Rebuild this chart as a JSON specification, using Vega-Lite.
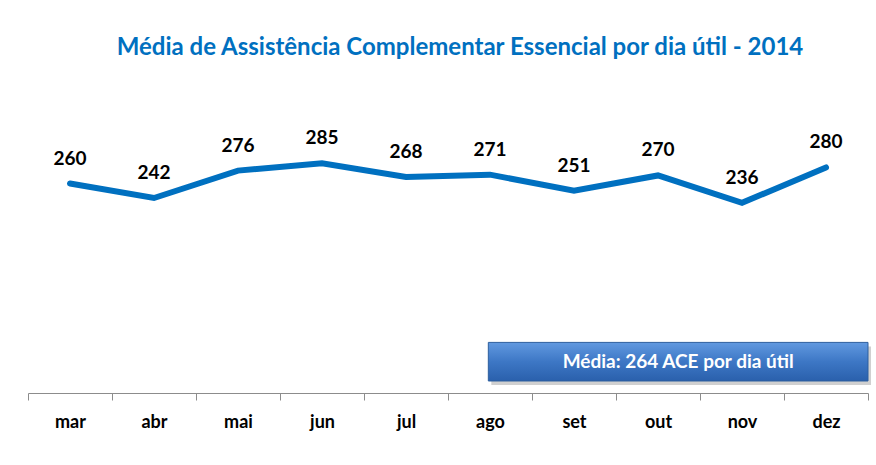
{
  "$schema": "https://vega.github.io/schema/vega-lite/v6.json",
  "width": 840,
  "height": 282,
  "autosize": "none",
  "padding": {"left": 28, "top": 111, "right": 8, "bottom": 72},
  "background": "white",
  "title": {
    "text": "Média de Assistência Complementar Essencial por dia útil - 2014",
    "font": "Lato",
    "fontSize": 24,
    "fontWeight": "bold",
    "color": "#0070C0",
    "anchor": "middle",
    "frame": "group",
    "offset": 51,
    "dx": 12
  },
  "config": {"view": {"stroke": null}},
  "datasets": {
    "meses": [
      {"mes": "mar", "valor": 260},
      {"mes": "abr", "valor": 242},
      {"mes": "mai", "valor": 276},
      {"mes": "jun", "valor": 285},
      {"mes": "jul", "valor": 268},
      {"mes": "ago", "valor": 271},
      {"mes": "set", "valor": 251},
      {"mes": "out", "valor": 270},
      {"mes": "nov", "valor": 236},
      {"mes": "dez", "valor": 280}
    ],
    "media": [{"rotulo": "Média: 264 ACE por dia útil"}]
  },
  "layer": [
    {
      "data": {"name": "meses"},
      "mark": {"type": "line", "color": "#0070C0", "strokeWidth": 6, "strokeCap": "round"},
      "encoding": {
        "x": {
          "field": "mes",
          "type": "nominal",
          "sort": null,
          "scale": {"type": "band", "paddingInner": 0, "paddingOuter": 0},
          "axis": {
            "title": null,
            "labelAngle": 0,
            "labelFont": "Lato",
            "labelFontSize": 18,
            "labelFontWeight": "bold",
            "labelColor": "black",
            "labelPadding": 13,
            "tickBand": "extent",
            "tickSize": 7,
            "tickColor": "#8c8c8c",
            "domainColor": "#8c8c8c",
            "grid": false
          }
        },
        "y": {"field": "valor", "type": "quantitative", "scale": {"domain": [0, 350]}, "axis": null}
      }
    },
    {
      "data": {"name": "meses"},
      "mark": {"type": "text", "font": "Lato", "fontSize": 19, "fontWeight": "bold", "color": "black", "dy": -25},
      "encoding": {
        "x": {"field": "mes", "type": "nominal", "sort": null, "scale": {"type": "band", "paddingInner": 0, "paddingOuter": 0}, "axis": null},
        "y": {"field": "valor", "type": "quantitative", "axis": null},
        "text": {"field": "valor", "type": "quantitative"}
      }
    },
    {
      "data": {"name": "media"},
      "mark": {"type": "rect", "fill": "#8a8a8a", "opacity": 0.4, "xOffset": 3, "x2Offset": 3, "yOffset": 4, "y2Offset": 4},
      "encoding": {
        "x": {"datum": 5.48, "type": "quantitative", "scale": {"domain": [0, 10]}, "axis": null},
        "x2": {"datum": 10},
        "y": {"datum": 62.8, "type": "quantitative", "axis": null},
        "y2": {"datum": 14.9}
      }
    },
    {
      "data": {"name": "media"},
      "mark": {
        "type": "rect",
        "stroke": "#2d5f9e",
        "strokeWidth": 1,
        "fill": {
          "gradient": "linear", "x1": 0, "y1": 0, "x2": 0, "y2": 1,
          "stops": [
            {"offset": 0, "color": "#6199e0"},
            {"offset": 0.5, "color": "#3d77c5"},
            {"offset": 1, "color": "#2a60ac"}
          ]
        }
      },
      "encoding": {
        "x": {"datum": 5.48, "type": "quantitative", "scale": {"domain": [0, 10]}, "axis": null},
        "x2": {"datum": 10},
        "y": {"datum": 62.8, "type": "quantitative", "axis": null},
        "y2": {"datum": 14.9}
      }
    },
    {
      "data": {"name": "media"},
      "mark": {"type": "text", "font": "Lato", "fontSize": 19, "fontWeight": "bold", "color": "white", "align": "center", "baseline": "middle"},
      "encoding": {
        "x": {"datum": 7.74, "type": "quantitative", "scale": {"domain": [0, 10]}, "axis": null},
        "y": {"datum": 38.8, "type": "quantitative", "axis": null},
        "text": {"field": "rotulo"}
      }
    }
  ],
  "resolve": {"scale": {"x": "independent"}, "axis": {"x": "independent"}}
}
